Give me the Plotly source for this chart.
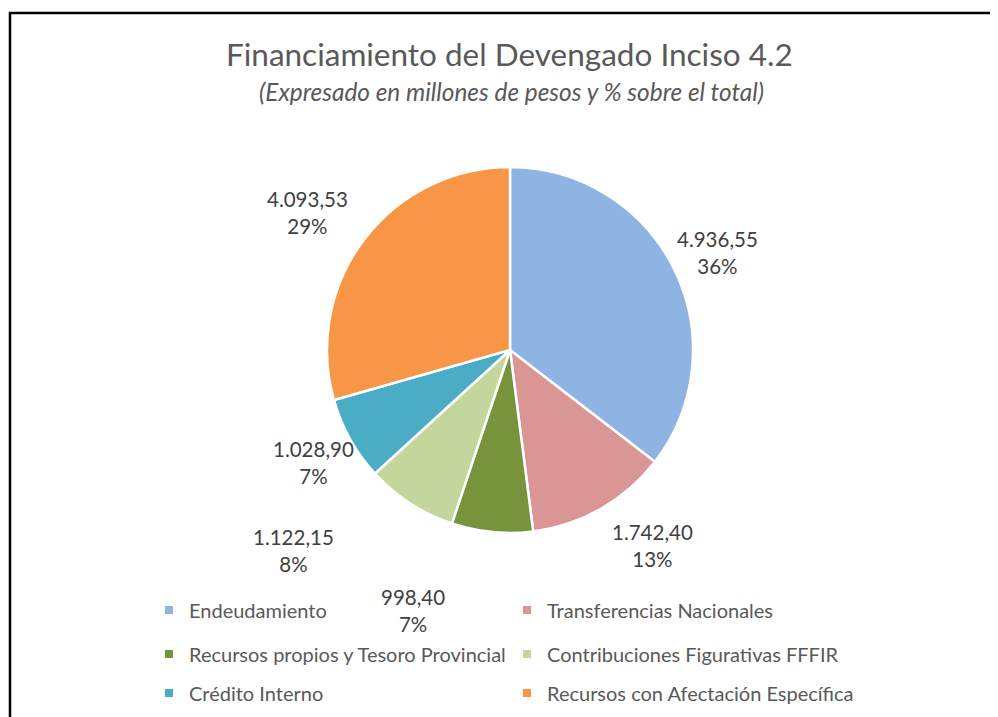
import plotly.graph_objects as go

categories = ["Endeudamiento", "Transferencias Nacionales", "Recursos propios y Tesoro Provincial",
              "Contribuciones Figurativas FFFIR", "Crédito Interno", "Recursos con Afectación Específica"]
values = [4936.55, 1742.40, 998.40, 1122.15, 1028.90, 4093.53]
value_labels = ["4.936,55", "1.742,40", "998,40", "1.122,15", "1.028,90", "4.093,53"]
pct_labels = ["36%", "13%", "7%", "8%", "7%", "29%"]
colors = ["#8EB4E3", "#D99694", "#77933C", "#C3D69B", "#4BACC6", "#F79646"]

W, H = 998, 717
OFF = 8  # default page body margin
FONT = "Lato"
GRAY = "#595959"


def px(x):
    return (x - OFF) / W


def py(y):
    return 1 - (y - OFF) / H


# pie geometry (pixels in the screenshot)
cx, cy, r = 510, 350, 183

fig = go.Figure()
fig.add_trace(go.Pie(
    labels=categories, values=values, sort=False, direction="clockwise", rotation=0,
    marker=dict(colors=colors, line=dict(color="white", width=2.5)),
    textinfo="none", showlegend=False, hoverinfo="label+value+percent",
    domain=dict(x=[px(cx - r), px(cx + r)], y=[py(cy + r), py(cy - r)]),
))

# legend entries via dummy traces, 3 rows of 2
legend_names = ["legend", "legend", "legend2", "legend2", "legend3", "legend3"]
for cat, col, lg in zip(categories, colors, legend_names):
    fig.add_trace(go.Scatter(x=[None], y=[None], mode="markers", name=cat,
                             marker=dict(symbol="square", size=8, color=col),
                             legend=lg, showlegend=True, hoverinfo="skip"))

# data label positions (pixel centers)
label_pos = [(717, 252), (652, 545), (413, 610), (293, 550), (313, 462), (307, 212)]
annotations = []
for (lx, ly), v, p in zip(label_pos, value_labels, pct_labels):
    annotations.append(dict(x=px(lx), y=py(ly), xref="paper", yref="paper",
                            xanchor="center", yanchor="middle",
                            text=f"{v}<br>{p}", showarrow=False, align="center",
                            font=dict(family=FONT, size=20.5, color="#404040")))
annotations.append(dict(x=px(510), y=py(54), xref="paper", yref="paper",
                        xanchor="center", yanchor="middle",
                        text="Financiamiento del Devengado Inciso 4.2", showarrow=False,
                        font=dict(family=FONT, size=31.5, color=GRAY)))
annotations.append(dict(x=px(511), y=py(91), xref="paper", yref="paper",
                        xanchor="center", yanchor="middle",
                        text="<i>(Expresado en millones de pesos y % sobre el total)</i>", showarrow=False,
                        font=dict(family=FONT, size=24.4, color=GRAY)))

leg_common = dict(orientation="h", xanchor="left", yanchor="middle", x=px(149),
                  entrywidth=313, entrywidthmode="pixels", bgcolor="rgba(0,0,0,0)",
                  font=dict(family=FONT, size=20, color=GRAY), itemclick=False, itemdoubleclick=False)

fig.update_layout(
    width=W, height=H, margin=dict(l=0, r=0, t=0, b=0),
    paper_bgcolor="white", plot_bgcolor="white",
    xaxis=dict(visible=False), yaxis=dict(visible=False),
    annotations=annotations,
    legend=dict(**leg_common, y=py(610)),
    legend2=dict(**leg_common, y=py(654)),
    legend3=dict(**leg_common, y=py(693)),
    shapes=[dict(type="rect", xref="paper", yref="paper", x0=px(10), y0=py(13), x1=1.05, y1=-0.05,
                 line=dict(color="black", width=2.5), fillcolor="rgba(0,0,0,0)", layer="above")],
)

fig.write_html("out.html")
